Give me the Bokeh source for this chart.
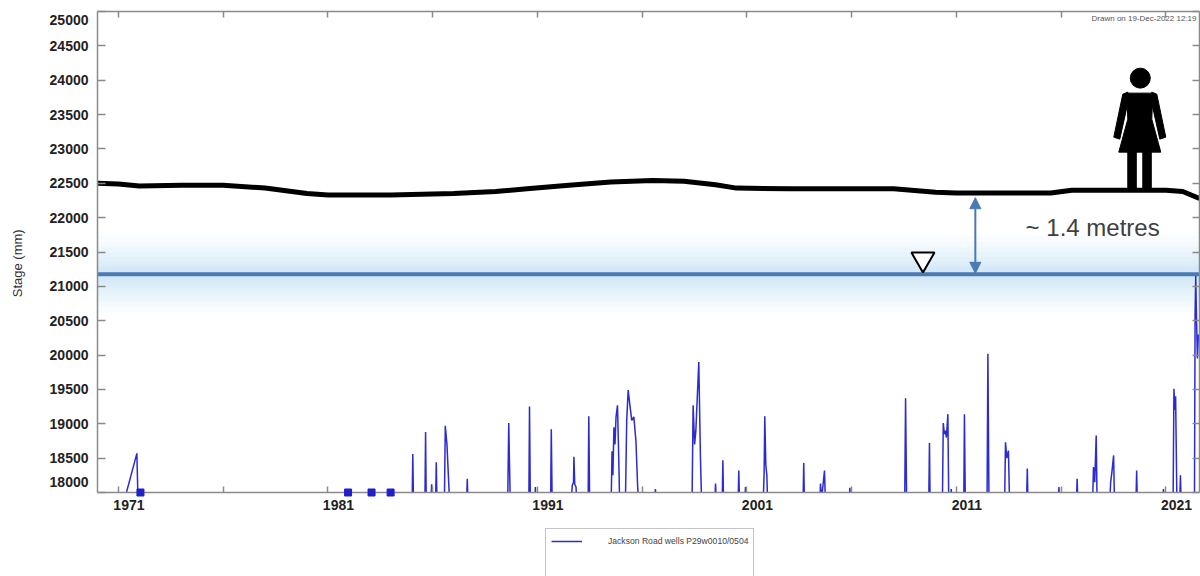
from bokeh.plotting import figure
from bokeh.models import (Range1d, LinearAxis, FixedTicker, CustomJSTickFormatter, Span,
                          BoxAnnotation, Arrow, NormalHead, Label, Legend, LegendItem)
from bokeh.embed import file_html
from bokeh.resources import INLINE

# ---- data ----
# ground surface (black line), mm
ground_year = [1970.0, 1971.0, 1972.0, 1974.0, 1976.0, 1978.0, 1980.0, 1981.0, 1984.0, 1987.0,
               1989.0, 1990.5, 1992.5, 1994.5, 1996.5, 1998.0, 1999.5, 2000.5, 2003.0, 2008.0,
               2010.0, 2011.0, 2015.5, 2016.5, 2020.0, 2021.0, 2021.8, 2022.6]
ground_mm = [22500, 22490, 22460, 22470, 22470, 22430, 22350, 22330, 22330, 22350,
             22380, 22420, 22470, 22520, 22540, 22530, 22480, 22430, 22420, 22420,
             22370, 22360, 22360, 22400, 22400, 22400, 22380, 22280]

# Jackson Road wells P29w0010/0504 stage record (values below 18000 fall off the axis)
stage_year = [
    1971.25, 1971.88, 1971.93,
    1985.02, 1985.05, 1985.08,
    1985.63, 1985.66, 1985.69,
    1985.92, 1985.95, 1985.98,
    1986.14, 1986.17, 1986.20,
    1986.56, 1986.60, 1986.68, 1986.74, 1986.80,
    1987.62, 1987.65, 1987.68,
    1989.58, 1989.63, 1989.66, 1989.70,
    1990.59, 1990.62, 1990.66,
    1990.88, 1990.90, 1990.92,
    1991.63, 1991.66, 1991.70,
    1992.62, 1992.66, 1992.72, 1992.74, 1992.78, 1992.84, 1992.87,
    1993.42, 1993.45, 1993.49,
    1994.52, 1994.56, 1994.60, 1994.65, 1994.70, 1994.75, 1994.82, 1994.88, 1994.92,
    1995.20, 1995.26, 1995.33, 1995.40, 1995.50, 1995.60, 1995.70, 1995.78, 1995.82,
    1996.60, 1996.63, 1996.66,
    1998.38, 1998.43, 1998.50, 1998.56, 1998.70, 1998.78, 1998.83,
    1999.47, 1999.50, 1999.53,
    1999.82, 1999.85, 1999.88,
    2000.58, 2000.61, 2000.64,
    2000.90, 2000.93, 2000.96,
    2001.78, 2001.82, 2001.85, 2001.90, 2001.95, 2001.98,
    2003.68, 2003.71, 2003.74,
    2004.48, 2004.51, 2004.56, 2004.70, 2004.74,
    2005.88, 2005.91, 2005.94,
    2008.53, 2008.57, 2008.62,
    2009.68, 2009.71, 2009.74,
    2010.33, 2010.37, 2010.42, 2010.47, 2010.52, 2010.59, 2010.63,
    2010.72, 2010.75, 2010.78,
    2011.35, 2011.38, 2011.42,
    2012.46, 2012.50, 2012.55,
    2013.30, 2013.34, 2013.40, 2013.48, 2013.53,
    2014.35, 2014.38, 2014.41,
    2015.86, 2015.89, 2015.92,
    2016.73, 2016.76, 2016.79,
    2017.50, 2017.54, 2017.60, 2017.67, 2017.71,
    2018.32, 2018.36, 2018.42, 2018.50, 2018.54,
    2019.57, 2019.60, 2019.63,
    2020.85, 2020.88, 2020.91,
    2021.34, 2021.38, 2021.42, 2021.46, 2021.52, 2021.66, 2021.69, 2021.72,
    2022.36, 2022.39, 2022.42, 2022.46, 2022.50, 2022.55,
]
stage_mm = [
    17850, 18570, 17900,
    17900, 18560, 17900,
    17900, 18880, 17900,
    17900, 18120, 17900,
    17900, 18440, 17900,
    17900, 18970, 18700, 18300, 17900,
    17900, 18200, 17900,
    17900, 19010, 18500, 17900,
    17900, 19250, 17900,
    17900, 18080, 17900,
    17900, 18920, 17900,
    17900, 18100, 18150, 18520, 18120, 18080, 17900,
    17900, 19110, 17900,
    17900, 18600, 18250, 18950, 18700, 19100, 19270, 18500, 17900,
    17900, 19050, 19490, 19300, 19050, 19100, 18750, 18100, 17900,
    17900, 18050, 17900,
    17900, 19270, 18700, 18900, 19900, 18500, 17900,
    17900, 18130, 17900,
    17900, 18470, 17900,
    17900, 18320, 17900,
    17900, 18080, 17900,
    17900, 18300, 19110, 18400, 18250, 17900,
    17900, 18430, 17900,
    17900, 18130, 17900, 18320, 17900,
    17900, 18070, 17900,
    17900, 19370, 17900,
    17900, 18720, 17900,
    17900, 19010, 18850, 18900, 18800, 19140, 17900,
    17900, 18050, 17900,
    17900, 19140, 17900,
    17900, 20020, 17900,
    17900, 18730, 18500, 18610, 17900,
    17900, 18350, 17900,
    17900, 18080, 17900,
    17900, 18200, 17900,
    17900, 18370, 18150, 18830, 17900,
    17900, 18150, 18300, 18540, 17900,
    17900, 18320, 17900,
    17900, 18050, 17900,
    17900, 19510, 19200, 19400, 17900, 17900, 18250, 17900,
    17900, 20600, 21150, 20500, 19950, 20300,
]
assert len(stage_year) == len(stage_mm)

# isolated single readings (square markers)
single_year = [1972.05, 1981.96, 1983.08, 1983.99]
single_mm = [18000, 18000, 18000, 18000]

water_level = 21175           # blue water line
arrow_year = 2011.9
arrow_from, arrow_to = 21190, 22290
tri_year, tri_mm = 2009.4, 21395

x_tick_years = [1971, 1976, 1981, 1986, 1991, 1996, 2001, 2006, 2011, 2016, 2021]
x_label_pos = [1971.5, 1981.5, 1991.5, 2001.5, 2011.5, 2021.5]
y_ticks = [18000, 18500, 19000, 19500, 20000, 20500, 21000, 21500, 22000,
           22500, 23000, 23500, 24000, 24500, 25000]
y_label_pos = [18150, 18500, 19000, 19500, 20000, 20500, 21000, 21500, 22000,
               22500, 23000, 23500, 24000, 24500, 24870]

# ---- figure ----
W, H = 1200, 576
LEFT, RIGHT, TOP = 97, 1, 11
AXIS_H = 481                      # pixels between 25000 and 18000
X0, X1 = 1970.0, 2022.6
Y0, Y1 = 18000, 25000
FRAME_W = W - LEFT - RIGHT
FRAME_H = H - TOP
px_x = (X1 - X0) / FRAME_W
px_y = (Y1 - Y0) / AXIS_H
Y_LOW = Y0 - (FRAME_H - AXIS_H) * px_y   # frame runs on below the time axis to hold the legend

FONT = "Liberation Sans"
GRAY = "#8a8a8a"
STEEL = "#4a7ab4"

p = figure(width=W, height=H, output_backend="svg", toolbar_location=None,
           x_range=Range1d(X0, X1), y_range=Range1d(Y_LOW, Y1),
           min_border_left=LEFT, min_border_right=RIGHT,
           min_border_top=TOP, min_border_bottom=0)
p.grid.grid_line_color = None
p.outline_line_color = None
p.background_fill_color = "white"

def style_axis(ax, tick_len):
    ax.axis_line_color = GRAY
    ax.axis_line_width = 1.5
    ax.major_tick_in = 0
    ax.major_tick_out = 0
    ax.minor_tick_in = tick_len
    ax.minor_tick_out = 0
    ax.minor_tick_line_color = GRAY
    ax.minor_tick_line_width = 1.5
    ax.major_label_text_font = FONT
    ax.major_label_text_font_size = "14px"
    ax.major_label_text_font_style = "bold"
    ax.major_label_text_color = "#222222"

xaxis = p.below[0]
xaxis.ticker = FixedTicker(ticks=x_label_pos, minor_ticks=x_tick_years)
xaxis.formatter = CustomJSTickFormatter(code="return String(Math.floor(tick))")
xaxis.fixed_location = Y0
style_axis(xaxis, 6)
xaxis.major_label_standoff = 7

yaxis = p.left[0]
yaxis.ticker = FixedTicker(ticks=y_label_pos, minor_ticks=y_ticks)
yaxis.major_label_overrides = {18150: "18000", 24870: "25000"}
yaxis.bounds = (Y0, Y1)
style_axis(yaxis, 8)
yaxis.major_label_standoff = 9
# leading no-break spaces lift the label to the middle of the 18000-25000 span
yaxis.axis_label = "\u00a0" * 17 + "Stage (mm)"
yaxis.axis_label_text_font = FONT
yaxis.axis_label_text_font_size = "13px"
yaxis.axis_label_text_font_style = "normal"
yaxis.axis_label_text_color = "#333333"
yaxis.axis_label_standoff = 22

top_ax = LinearAxis(ticker=FixedTicker(ticks=[], minor_ticks=x_tick_years))
style_axis(top_ax, 6)
top_ax.major_label_text_font_size = "0px"
top_ax.major_label_standoff = 0
p.add_layout(top_ax, "above")

right_ax = LinearAxis(ticker=FixedTicker(ticks=[], minor_ticks=y_ticks), bounds=(Y0, Y1))
style_axis(right_ax, 7)
right_ax.major_label_text_font_size = "0px"
right_ax.major_label_standoff = 0
p.add_layout(right_ax, "right")

# soft glow around the water level
for half in [560, 470, 390, 320, 250, 190, 130, 80]:
    p.add_layout(BoxAnnotation(bottom=water_level - half, top=water_level + half,
                               fill_color="#8dbbe6", fill_alpha=0.05,
                               line_alpha=0, level="underlay"))
p.add_layout(Span(location=water_level, dimension="width", line_color=STEEL,
                  line_width=4, level="underlay"))

stage_r = p.line(stage_year, stage_mm, line_color="#2b2bd0", line_width=1.5)
# readings below the axis are hidden, as in the source chart
p.add_layout(BoxAnnotation(top=Y0, fill_color="white", fill_alpha=1, line_alpha=0, level="glyph"))
p.scatter(single_year, single_mm, marker="square", size=7, color="#1f1fcc", level="overlay")

p.line(ground_year, ground_mm, line_color="black", line_width=5, line_join="round")

# person icon standing on the ground line (offsets in pixels)
ICON_X, ICON_Y = 2019.75, 22415
dress = [(-13, 96), (13, 96), (12, 70), (21, 37), (-21, 37), (-12, 70)]
arm_l = [(-12, 97), (-17, 95), (-26, 52), (-20, 50), (-12, 86)]
arm_r = [(12, 97), (17, 95), (26, 52), (20, 50), (12, 86)]
leg_l = [(-12, 0), (-3.5, 0), (-3.5, 38), (-12, 38)]
leg_r = [(3, 0), (11.5, 0), (11.5, 38), (3, 38)]
shapes = [dress, arm_l, arm_r, leg_l, leg_r]
xs = [[ICON_X + dx * px_x for dx, dy in s] for s in shapes]
ys = [[ICON_Y + dy * px_y for dx, dy in s] for s in shapes]
p.patches(xs, ys, color="black")
p.scatter([ICON_X + 0.5 * px_x], [ICON_Y + 111 * px_y], marker="circle", size=20, color="black")

# depth arrow and water symbol
p.add_layout(Arrow(start=NormalHead(size=11, fill_color=STEEL, line_color=STEEL),
                   end=NormalHead(size=11, fill_color=STEEL, line_color=STEEL),
                   x_start=arrow_year, y_start=arrow_from, x_end=arrow_year, y_end=arrow_to,
                   line_color=STEEL, line_width=2))
p.scatter([tri_year], [tri_mm], marker="inverted_triangle", size=23,
          fill_color="white", line_color="black", line_width=2)

p.add_layout(Label(x=2014.3, y=21856, text="~ 1.4 metres", text_font=FONT,
                   text_font_size="24px", text_color="#404040", text_baseline="middle"))
p.add_layout(Label(x=X1 - 3 * px_x, y=Y1 - 7 * px_y, text="Drawn on 19-Dec-2022 12:19",
                   text_font=FONT, text_font_size="8px", text_color="#555555",
                   text_align="right", text_baseline="middle"))

dummy = p.line([], [], line_alpha=0)
legend = Legend(items=[LegendItem(label="Jackson Road wells P29w0010/0504", renderers=[stage_r]),
                       LegendItem(label=" ", renderers=[dummy]),
                       LegendItem(label=" ", renderers=[dummy])],
                location=(448, -14), margin=0, padding=5, spacing=4,
                glyph_width=31, glyph_height=14, label_height=14, label_standoff=26,
                label_text_font=FONT, label_text_font_size="8.6px", label_text_color="#444444",
                border_line_color=GRAY, border_line_width=1, background_fill_alpha=1)
p.add_layout(legend)

open("out.html", "w").write(file_html(p, INLINE))
